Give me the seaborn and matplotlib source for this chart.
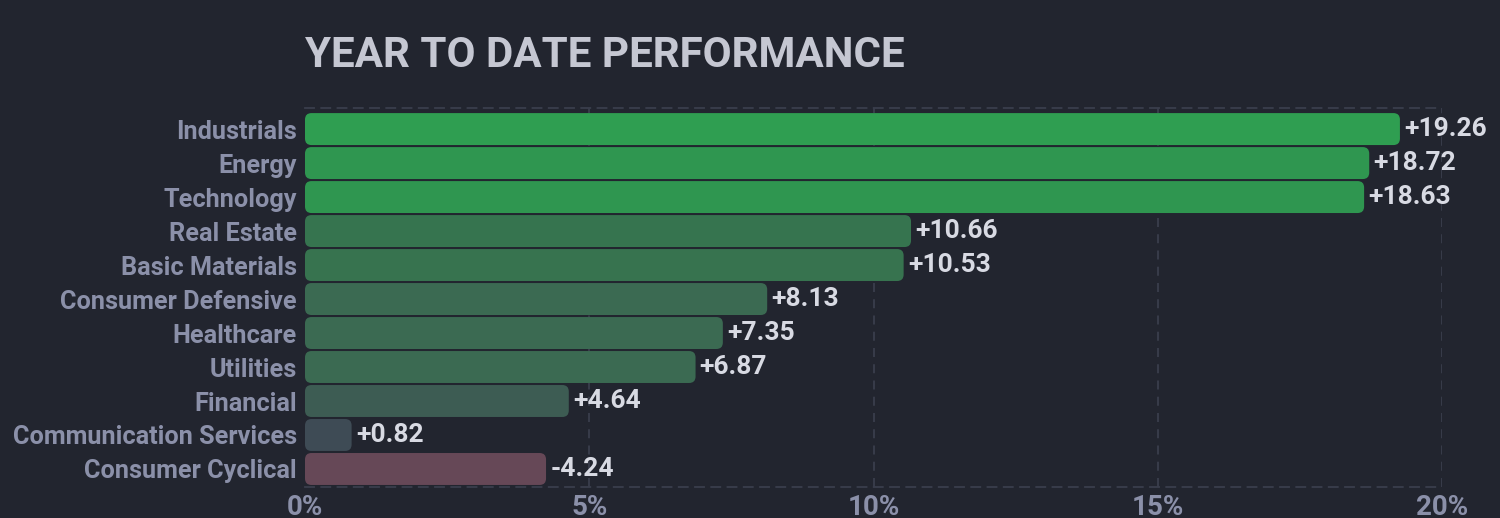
import matplotlib
matplotlib.use("Agg")
import matplotlib.pyplot as plt
from matplotlib import font_manager
from matplotlib.patches import FancyBboxPatch
import seaborn as sns
import pandas as pd

categories = ["Industrials", "Energy", "Technology", "Real Estate", "Basic Materials",
              "Consumer Defensive", "Healthcare", "Utilities", "Financial",
              "Communication Services", "Consumer Cyclical"]
values = [19.26, 18.72, 18.63, 10.66, 10.53, 8.13, 7.35, 6.87, 4.64, 0.82, -4.24]
bar_colors = ["#2f9e51", "#2f9650", "#2f9650", "#36744f", "#37734f", "#3b6a52",
              "#3b6a52", "#3b6a52", "#3d5c53", "#3e4b55", "#664857"]
xticks = [0, 5, 10, 15, 20]
xtick_labels = ["0%", "5%", "10%", "15%", "20%"]
title = "YEAR TO DATE PERFORMANCE"

BG = "#22252f"
GRID = "#3a3e4c"
LABEL = "#8b90a9"
VALUE = "#d8dae3"
TITLE = "#c5c7d2"

sns.set_theme(style="dark")
names = {f.name for f in font_manager.fontManager.ttflist}
narrow = "Liberation Sans Narrow" if "Liberation Sans Narrow" in names else "Roboto"
plt.rcParams["font.family"] = [narrow, "DejaVu Sans"]

df = pd.DataFrame({"sector": categories, "value": values,
                   "size": [abs(v) for v in values]})

fig = plt.figure(figsize=(15, 5.18), dpi=100, facecolor=BG)
ax = fig.add_axes([305 / 1500, 1 - 487 / 518, (1442 - 305) / 1500, (487 - 108) / 518])
ax.set_facecolor(BG)

sns.barplot(data=df, x="size", y="sector", hue="sector", order=categories,
            hue_order=categories, palette=dict(zip(categories, bar_colors)),
            legend=False, width=0.94, orient="h", saturation=1, ax=ax)

ax.set_xlim(0, 20)
ax.set_ylim(len(categories) - 0.47, -0.62)

# value labels
for cont, v in zip(ax.containers, values):
    ax.bar_label(cont, labels=[f"{v:+.2f}"], padding=3, color=VALUE,
                 fontsize=19, fontweight="bold", family=["Roboto", "DejaVu Sans"])

# rounded bars
ppx = ax.get_window_extent().width / 20
ppy = ax.get_window_extent().height / (len(categories) + 0.15)
r = 6.5 / ppx
asp = (6.5 / ppy) / r
for p in list(ax.patches):
    x, y, w, h = p.get_x(), p.get_y(), p.get_width(), p.get_height()
    fb = FancyBboxPatch((x, y), w, h, boxstyle=f"round,pad=0,rounding_size={min(r, w/2)}",
                        mutation_aspect=asp, facecolor=p.get_facecolor(),
                        edgecolor="none", zorder=3)
    ax.add_patch(fb)
    p.set_visible(False)

ax.set_xticks(xticks)
ax.set_xticklabels(xtick_labels)
ax.set_xlabel("")
ax.set_ylabel("")
ax.tick_params(axis="both", length=0, colors=LABEL)
ax.tick_params(axis="y", pad=6, labelsize=18.2)
ax.tick_params(axis="x", pad=5, labelsize=20)
for lab in ax.get_yticklabels() + ax.get_xticklabels():
    lab.set_fontweight("semibold")
    lab.set_color(LABEL)

ax.grid(axis="x", color=GRID, linestyle=(0, (5, 4)), linewidth=1.3, zorder=0)
ax.grid(axis="y", visible=False)
ax.set_axisbelow(True)
gl = ax.xaxis.get_gridlines()
gl[0].set_visible(False)

for s in ["left", "right"]:
    ax.spines[s].set_visible(False)
for s in ["top", "bottom"]:
    ax.spines[s].set_visible(True)
    ax.spines[s].set_color(GRID)
    ax.spines[s].set_linestyle((0, (5, 4)))
    ax.spines[s].set_linewidth(1.3)

fig.text(305 / 1500, 1 - 67 / 518, title, color=TITLE, fontsize=30.3,
         fontweight="bold", va="baseline", ha="left", family=["Roboto", "DejaVu Sans"])

fig.savefig("out.png", dpi=100, facecolor=BG)
